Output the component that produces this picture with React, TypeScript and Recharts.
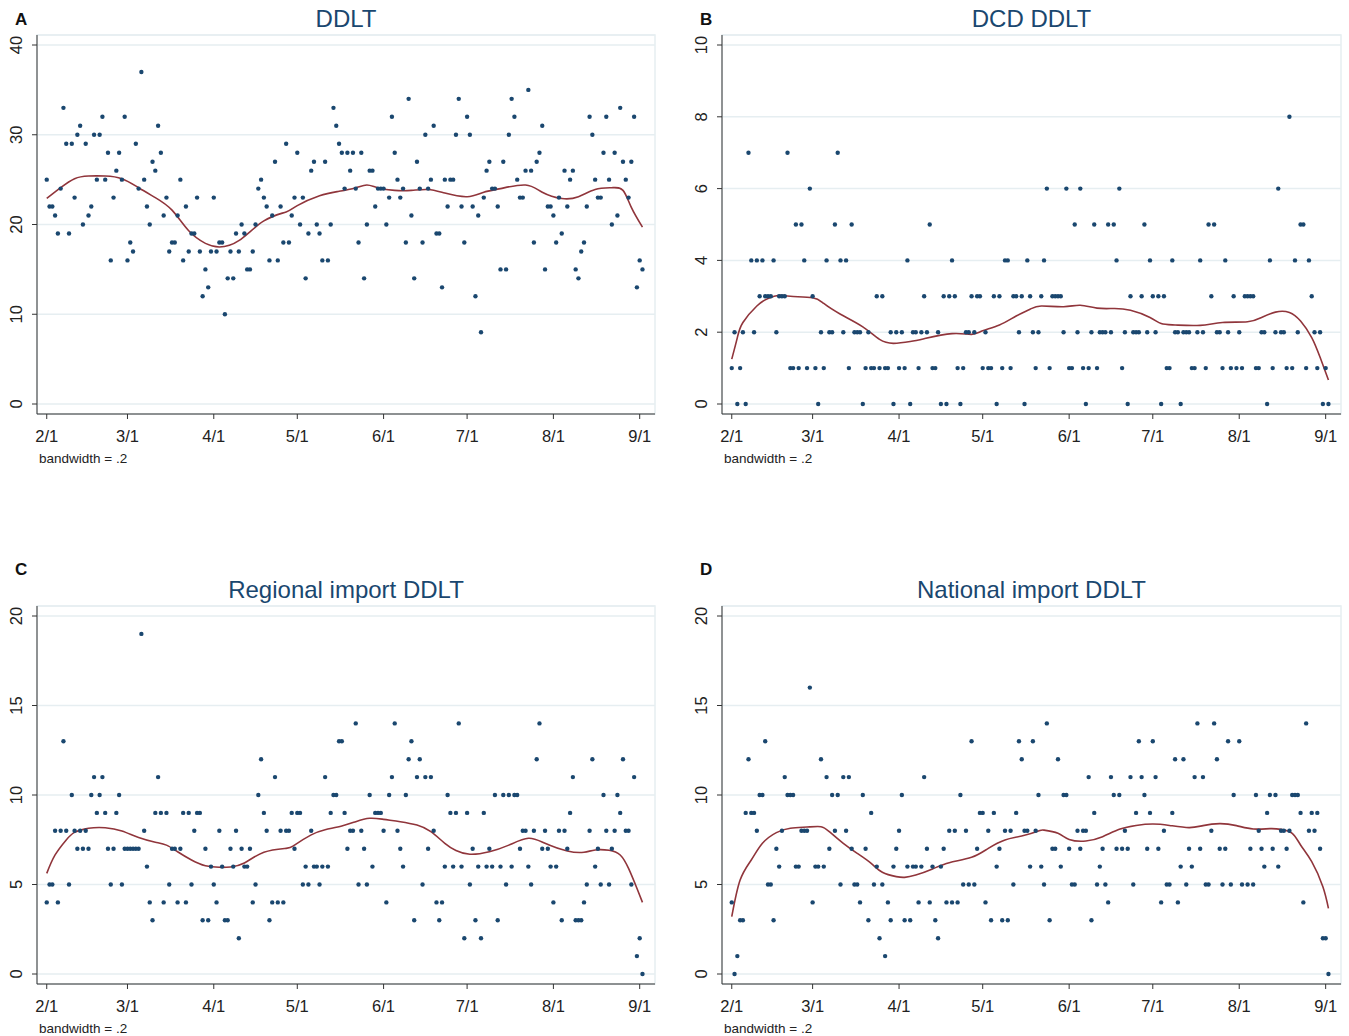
import React from "react";
import { ComposedChart, Scatter, Line, XAxis, YAxis, CartesianGrid, ReferenceArea } from "recharts";

// day index 0 = 2/1, one value per day
const monthTicks = [0, 29, 60, 90, 121, 151, 182, 213];
const monthLabels = ["2/1", "3/1", "4/1", "5/1", "6/1", "7/1", "8/1", "9/1"];

const ddltDaily = [
  25, 22, 22, 21, 19, 24, 33, 29, 19, 29, 23, 30, 31, 20, 29, 21, 22, 30, 25, 30,
  32, 25, 28, 16, 23, 26, 28, 25, 32, 16, 18, 17, 29, 24, 37, 25, 22, 20, 27, 26,
  31, 28, 21, 23, 17, 18, 18, 21, 25, 16, 22, 17, 19, 19, 23, 17, 12, 15, 13, 17,
  23, 17, 18, 18, 10, 14, 17, 14, 19, 17, 20, 19, 15, 15, 17, 20, 24, 25, 23, 22,
  16, 21, 27, 16, 22, 18, 29, 18, 21, 23, 28, 20, 23, 14, 19, 26, 27, 20, 19, 16,
  27, 16, 20, 33, 31, 29, 28, 24, 28, 26, 28, 24, 18, 28, 14, 20, 26, 26, 22, 24,
  24, 24, 20, 23, 32, 28, 25, 23, 24, 18, 34, 21, 14, 27, 24, 18, 30, 24, 25, 31,
  19, 19, 13, 25, 22, 25, 25, 30, 34, 22, 18, 32, 30, 22, 12, 21, 8, 23, 26, 27,
  24, 24, 22, 15, 27, 15, 30, 34, 32, 25, 23, 23, 26, 35, 26, 18, 27, 28, 31, 15,
  22, 22, 21, 18, 23, 19, 26, 22, 25, 26, 15, 14, 17, 18, 22, 32, 30, 25, 23, 23,
  28, 32, 25, 20, 28, 21, 33, 27, 25, 23, 27, 32, 13, 16, 15,
];
const ddltFitDays = [0, 5, 10, 15, 21, 27, 33, 39, 45, 51, 57, 62, 69, 78, 86, 90, 98, 105, 111, 115, 119, 125, 131, 137, 143, 151, 157, 163, 172, 178, 185, 191, 197, 203, 207, 210, 214];
const ddltFit = [22.9, 24.1, 25.1, 25.4, 25.4, 25.1, 24.1, 23.0, 21.6, 19.3, 17.9, 17.5, 18.2, 20.4, 21.4, 22.1, 23.2, 23.7, 24.1, 24.4, 24.1, 23.8, 23.8, 23.9, 23.5, 23.1, 23.6, 24.0, 24.4, 23.6, 22.9, 23.1, 23.9, 24.1, 23.8, 21.9, 19.7];

const dcdDaily = [
  1, 2, 0, 1, 2, 0, 7, 4, 2, 4, 3, 4, 3, 3, 3, 4, 2, 3, 3, 3,
  7, 1, 1, 5, 1, 5, 4, 1, 6, 3, 1, 0, 2, 1, 4, 2, 2, 5, 7, 4,
  2, 4, 1, 5, 2, 2, 2, 0, 1, 2, 1, 1, 3, 1, 3, 1, 1, 2, 0, 2,
  1, 2, 1, 4, 0, 2, 2, 1, 2, 3, 2, 5, 1, 1, 2, 0, 3, 0, 3, 4,
  3, 1, 0, 1, 2, 2, 3, 2, 3, 3, 1, 2, 1, 1, 3, 0, 3, 1, 4, 4,
  1, 3, 3, 2, 3, 0, 4, 3, 2, 1, 2, 3, 4, 6, 1, 3, 3, 3, 3, 2,
  6, 1, 1, 5, 2, 6, 1, 0, 1, 2, 5, 1, 2, 2, 2, 5, 2, 5, 4, 6,
  1, 2, 0, 3, 2, 2, 2, 3, 5, 2, 4, 3, 2, 3, 0, 3, 1, 1, 4, 2,
  2, 0, 2, 2, 2, 1, 1, 2, 4, 2, 1, 5, 3, 5, 2, 2, 1, 4, 2, 1,
  3, 1, 2, 1, 3, 3, 3, 3, 1, 1, 2, 2, 0, 4, 1, 2, 6, 2, 2, 1,
  8, 1, 4, 2, 5, 5, 1, 4, 3, 2, 1, 2, 0, 1, 0,
];
const dcdFitDays = [0, 2, 4, 9, 13, 17, 21, 29, 33, 39, 47, 53, 58, 64, 69, 79, 86, 90, 96, 102, 107, 111, 119, 125, 131, 137, 143, 150, 154, 159, 168, 176, 185, 190, 195, 200, 204, 208, 211, 214];
const dcdFit = [1.25, 1.85, 2.27, 2.73, 2.94, 3.03, 3.0, 2.96, 2.8, 2.5, 2.15, 1.8, 1.69, 1.74, 1.82, 1.96, 1.94, 2.04, 2.2, 2.45, 2.64, 2.73, 2.71, 2.75, 2.67, 2.66, 2.61, 2.41, 2.24, 2.2, 2.19, 2.27, 2.29, 2.41, 2.56, 2.55, 2.31, 1.85, 1.3, 0.67];

const regionalDaily = [
  4, 5, 5, 8, 4, 8, 13, 8, 5, 10, 8, 7, 8, 7, 8, 7, 10, 11, 9, 10,
  11, 9, 7, 5, 7, 9, 10, 5, 7, 7, 7, 7, 7, 7, 19, 8, 6, 4, 3, 9,
  11, 9, 4, 9, 5, 7, 7, 4, 7, 9, 4, 9, 5, 8, 9, 9, 3, 7, 3, 6,
  5, 4, 8, 6, 3, 3, 7, 6, 8, 2, 7, 6, 6, 7, 4, 5, 10, 12, 9, 8,
  3, 4, 11, 4, 8, 4, 8, 8, 9, 7, 9, 9, 5, 6, 5, 8, 6, 6, 5, 6,
  11, 6, 9, 10, 10, 13, 13, 9, 7, 8, 8, 14, 5, 8, 7, 5, 10, 6, 9, 9,
  9, 8, 4, 10, 11, 14, 8, 7, 6, 10, 12, 13, 3, 11, 12, 5, 11, 7, 11, 8,
  4, 3, 4, 6, 10, 9, 6, 9, 14, 6, 2, 9, 5, 7, 3, 6, 2, 9, 6, 7,
  6, 10, 3, 6, 10, 5, 10, 6, 10, 10, 7, 8, 8, 6, 5, 8, 12, 14, 7, 8,
  7, 6, 4, 6, 8, 3, 8, 7, 9, 11, 3, 3, 3, 4, 5, 8, 12, 6, 7, 5,
  10, 8, 5, 7, 8, 10, 9, 12, 8, 8, 5, 11, 1, 2, 0,
];
const regionalFitDays = [0, 3, 7, 10, 15, 21, 27, 33, 39, 43, 47, 52, 57, 62, 66, 71, 78, 86, 89, 95, 100, 106, 111, 116, 121, 127, 133, 138, 143, 147, 152, 159, 166, 173, 179, 187, 193, 197, 202, 206, 209, 212, 214];
const regionalFit = [5.62, 6.65, 7.49, 7.91, 8.14, 8.17, 7.99, 7.62, 7.36, 7.2, 6.83, 6.37, 6.05, 5.96, 5.98, 6.2, 6.8, 7.02, 7.2, 7.77, 8.06, 8.27, 8.51, 8.7, 8.64, 8.51, 8.32, 7.95, 7.3, 6.9, 6.69, 6.83, 7.2, 7.58, 7.3, 6.87, 6.8, 6.93, 6.91, 6.65, 5.9, 4.79, 4.0];

const nationalDaily = [
  4, 0, 1, 3, 3, 9, 12, 9, 9, 8, 10, 10, 13, 5, 5, 3, 7, 6, 8, 11,
  10, 10, 10, 6, 6, 8, 8, 8, 16, 4, 6, 6, 12, 6, 11, 7, 10, 8, 10, 5,
  11, 8, 11, 7, 5, 5, 4, 10, 7, 3, 9, 5, 6, 2, 5, 1, 4, 3, 6, 7,
  8, 10, 3, 6, 3, 6, 6, 4, 6, 11, 7, 4, 6, 3, 2, 6, 7, 4, 8, 4,
  8, 4, 10, 5, 8, 5, 13, 5, 7, 9, 9, 4, 8, 3, 9, 6, 7, 3, 8, 3,
  8, 5, 9, 13, 12, 8, 8, 6, 13, 8, 10, 6, 5, 14, 3, 7, 7, 12, 6, 10,
  10, 7, 5, 5, 8, 7, 8, 8, 11, 3, 9, 5, 6, 7, 5, 4, 11, 10, 7, 10,
  7, 8, 7, 11, 5, 9, 13, 11, 10, 7, 9, 13, 11, 7, 4, 8, 5, 5, 9, 12,
  4, 6, 12, 5, 7, 6, 11, 14, 7, 11, 5, 5, 8, 14, 12, 7, 5, 7, 13, 5,
  10, null, 13, 5, null, 5, 7, 5, 10, 8, 7, 6, 9, 10, 7, 10, 6, 8, 8, 7,
  8, 10, 10, 10, 9, 4, 14, 8, 9, 8, 9, 7, 2, 2, 0,
];
const nationalFitDays = [0, 3, 7, 11, 16, 21, 27, 32, 35, 40, 45, 50, 54, 59, 62, 66, 72, 78, 86, 92, 98, 104, 110, 112, 117, 121, 127, 133, 139, 145, 151, 157, 164, 169, 175, 181, 187, 193, 197, 201, 204, 208, 212, 214];
const nationalFit = [3.2, 5.25, 6.37, 7.3, 7.9, 8.14, 8.21, 8.23, 7.95, 7.3, 6.74, 6.18, 5.68, 5.44, 5.4, 5.53, 5.87, 6.22, 6.52, 7.02, 7.49, 7.71, 7.99, 8.04, 7.86, 7.52, 7.43, 7.67, 8.08, 8.3, 8.38, 8.3, 8.18, 8.29, 8.4, 8.29, 8.1, 8.12, 8.08, 7.86, 7.21, 6.28, 4.88, 3.67];

const FONT = "'Liberation Sans', Arial, Helvetica, sans-serif";
const NAVY = "#1a476f";
const FIT_RED = "#90353b";
const GRID = "#e6eef1";

const Dot = (props: any) => <circle cx={props.cx} cy={props.cy} r={2.2} fill={NAVY} />;

const YTick = (props: any) => {
  const { x, y, payload } = props;
  const cx = x - 14;
  return (
    <text x={cx} y={y} transform={`rotate(-90 ${cx} ${y})`} textAnchor="middle" dominantBaseline="central" fontSize={16.5} fill="#222" fontFamily={FONT}>
      {payload.value}
    </text>
  );
};

type PanelProps = {
  left: number;
  top: number;
  width: number;
  letter: string;
  letterY: number;
  title: string;
  values: (number | null)[];
  fitDays: number[];
  fit: number[];
  yMax: number;
  yTicks: number[];
  plotTop: number;
};

const Panel = ({ left, top, width, letter, letterY, title, values, fitDays, fit, yMax, yTicks, plotTop }: PanelProps) => {
  const height = 470;
  const plotH = 414 - plotTop;
  const pad = (yMax * 10) / (plotH - 20);
  const pts = values.map((v, i) => ({ day: i, v })).filter((p) => p.v !== null);
  const line = fitDays.map((d, i) => ({ day: d, v: fit[i] }));
  const plotLeft = 37;
  const plotRight = width - (width > 670 ? 20 : 8);
  const centerX = left + (plotLeft + plotRight) / 2;
  return (
    <>
      <div style={{ position: "absolute", left: left + 15, top: letterY - 10, fontFamily: FONT, fontWeight: "bold", fontSize: 17, lineHeight: "20px", color: "#111" }}>{letter}</div>
      <div style={{ position: "absolute", left: centerX - 250, width: 500, textAlign: "center", top: top + plotTop - 30, fontFamily: FONT, fontSize: 24, lineHeight: "28px", color: NAVY }}>{title}</div>
      <div style={{ position: "absolute", left: left + 39, top: top + 451, fontFamily: FONT, fontSize: 13.5, lineHeight: "16px", color: "#222" }}>bandwidth = .2</div>
      <div style={{ position: "absolute", left, top }}>
        <ComposedChart width={width} height={height} margin={{ top: plotTop, right: width - plotRight, bottom: 26, left: 7 }}>
          <CartesianGrid horizontal vertical={false} stroke={GRID} strokeWidth={1.5} />
          <ReferenceArea x1={-3.5} x2={218.5} y1={-pad} y2={yMax + pad} fill="none" stroke={GRID} strokeWidth={1.5} />
          <XAxis
            type="number"
            dataKey="day"
            domain={[-3.5, 218.5]}
            ticks={monthTicks}
            tickFormatter={(d: number) => monthLabels[monthTicks.indexOf(d)]}
            allowDataOverflow
            height={30}
            tickSize={5}
            tickMargin={11}
            stroke="#333"
            tick={{ fontSize: 16.5, fill: "#222", fontFamily: FONT }}
          />
          <YAxis
            type="number"
            dataKey="v"
            domain={[-pad, yMax + pad]}
            ticks={yTicks}
            allowDataOverflow
            width={30}
            tickSize={5}
            stroke="#333"
            tick={<YTick />}
          />
          <Scatter data={pts} dataKey="v" shape={Dot} isAnimationActive={false} />
          <Line data={line} dataKey="v" type="natural" stroke={FIT_RED} strokeWidth={1.6} dot={false} isAnimationActive={false} />
        </ComposedChart>
      </div>
    </>
  );
};

export default function App() {
  return (
    <div style={{ position: "absolute", left: 0, top: 0, width: 1349, height: 1036, background: "#fff", overflow: "hidden" }}>
      <Panel left={0} top={0} width={675} letter="A" letterY={20} title="DDLT" values={ddltDaily} fitDays={ddltFitDays} fit={ddltFit} yMax={40} yTicks={[0, 10, 20, 30, 40]} plotTop={35} />
      <Panel left={685} top={0} width={664} letter="B" letterY={20} title="DCD DDLT" values={dcdDaily} fitDays={dcdFitDays} fit={dcdFit} yMax={10} yTicks={[0, 2, 4, 6, 8, 10]} plotTop={35} />
      <Panel left={0} top={570} width={675} letter="C" letterY={570} title="Regional import DDLT" values={regionalDaily} fitDays={regionalFitDays} fit={regionalFit} yMax={20} yTicks={[0, 5, 10, 15, 20]} plotTop={36} />
      <Panel left={685} top={570} width={664} letter="D" letterY={570} title="National import DDLT" values={nationalDaily} fitDays={nationalFitDays} fit={nationalFit} yMax={20} yTicks={[0, 5, 10, 15, 20]} plotTop={36} />
    </div>
  );
}
